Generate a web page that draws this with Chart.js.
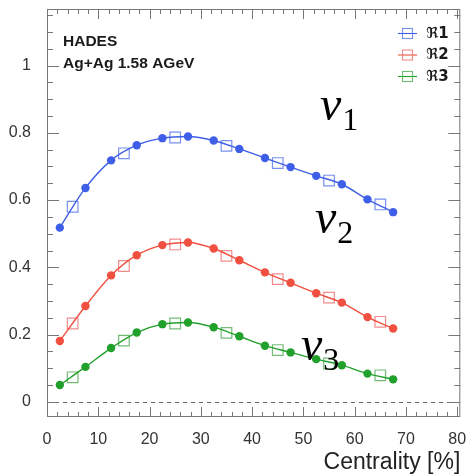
<!DOCTYPE html>
<html>
<head>
<meta charset="utf-8">
<script src="https://cdn.jsdelivr.net/npm/chart.js@4.4.1/dist/chart.umd.min.js"></script>
<style>
html,body{margin:0;padding:0;background:#fff;}
#wrap{width:469px;height:476px;position:relative;}
</style>
</head>
<body>
<div id="wrap"><canvas id="c" width="469" height="476"></canvas></div>
<script>
// Centrality bin centres
const circleX = [2.5, 7.5, 12.5, 17.5, 22.5, 27.5, 32.5, 37.5, 42.5, 47.5, 52.5, 57.5, 62.5, 67.5];
const squareX = [5, 15, 25, 35, 45, 55, 65];

const r1Circles = [0.518, 0.636, 0.718, 0.763, 0.784, 0.789, 0.777, 0.752, 0.725, 0.698, 0.672, 0.647, 0.602, 0.564];
const r1Squares = [0.580, 0.739, 0.786, 0.761, 0.710, 0.658, 0.587];
const r2Circles = [0.181, 0.285, 0.376, 0.436, 0.466, 0.474, 0.456, 0.421, 0.385, 0.354, 0.323, 0.295, 0.252, 0.218];
const r2Squares = [0.233, 0.404, 0.468, 0.434, 0.365, 0.310, 0.238];
const r3Circles = [0.050, 0.104, 0.160, 0.206, 0.231, 0.236, 0.222, 0.195, 0.167, 0.147, 0.127, 0.109, 0.084, 0.067];
const r3Squares = [0.073, 0.182, 0.233, 0.205, 0.154, 0.114, 0.079];

const seriesNames = ['\u211C1', '\u211C2', '\u211C3'];
const xTickValues = [0, 10, 20, 30, 40, 50, 60, 70, 80];
const yTickValues = [0, 0.2, 0.4, 0.6, 0.8, 1];
const yTickLabels = ['0', '0.2', '0.4', '0.6', '0.8', '1'];
const harmonicLabels = [['1', 320, 120], ['2', 315, 233], ['3', 301, 360]];

const colors = [
  {main: '#3f5fe8', light: 'rgba(95,125,235,0.85)'},
  {main: '#f0503f', light: 'rgba(240,120,120,0.85)'},
  {main: '#22a02c', light: 'rgba(90,175,95,0.85)'}
];

function pts(xs, ys) { return xs.map((x, i) => ({x: x, y: ys[i]})); }

const circleSets = [r1Circles, r2Circles, r3Circles];
const squareSets = [r1Squares, r2Squares, r3Squares];
const datasets = [];
for (let i = 0; i < 3; i++) {
  datasets.push({
    label: seriesNames[i] + ' fit',
    data: pts(circleX, circleSets[i]),
    showLine: true,
    cubicInterpolationMode: 'monotone',
    borderColor: colors[i].main,
    borderWidth: 1.4,
    backgroundColor: colors[i].main,
    pointBackgroundColor: colors[i].main,
    pointBorderColor: colors[i].main,
    pointRadius: 4.2,
    pointBorderWidth: 0,
    pointStyle: 'circle'
  });
  datasets.push({
    label: seriesNames[i],
    data: pts(squareX, squareSets[i]),
    showLine: false,
    pointStyle: 'rect',
    pointRadius: 7.5,
    pointBackgroundColor: 'rgba(0,0,0,0)',
    pointBorderColor: colors[i].light,
    pointBorderWidth: 1.2
  });
}

function noPad(s) { s.paddingLeft = 0; s.paddingRight = 0; s.paddingTop = 0; s.paddingBottom = 0; }

const framePlugin = {
  id: 'frame',
  beforeDatasetsDraw(chart) {
    const {ctx, chartArea: a, scales: {y}} = chart;
    ctx.save();
    ctx.strokeStyle = '#666';
    ctx.lineWidth = 1;
    ctx.setLineDash([4, 4]);
    const y0 = Math.round(y.getPixelForValue(0)) + 0.5;
    ctx.beginPath(); ctx.moveTo(a.left, y0); ctx.lineTo(a.right, y0); ctx.stroke();
    ctx.restore();
  },
  afterDatasetsDraw(chart) {
    const {ctx, chartArea: a, scales: {x, y}} = chart;
    ctx.save();
    ctx.strokeStyle = '#777';
    ctx.lineWidth = 1;
    ctx.strokeRect(a.left + 0.5, a.top + 0.5, a.right - a.left - 1, a.bottom - a.top - 1);
    ctx.beginPath();
    for (let v = 0; v <= 80; v += 2) {
      const px = Math.round(x.getPixelForValue(v)) + 0.5;
      const len = (v % 10 === 0) ? 10 : 5;
      ctx.moveTo(px, a.bottom); ctx.lineTo(px, a.bottom - len);
      ctx.moveTo(px, a.top); ctx.lineTo(px, a.top + len);
    }
    for (let k = 0; k <= 23; k++) {
      const v = k * 0.05;
      if (v > y.max) break;
      const py = Math.round(y.getPixelForValue(v)) + 0.5;
      const len = (k % 4 === 0) ? 12 : 6;
      ctx.moveTo(a.left, py); ctx.lineTo(a.left + len, py);
      ctx.moveTo(a.right, py); ctx.lineTo(a.right - len, py);
    }
    ctx.stroke();

    // experiment label
    ctx.fillStyle = '#1a1a1a';
    ctx.font = 'bold 15.5px "Liberation Sans", Arial, sans-serif';
    ctx.textBaseline = 'alphabetic';
    ctx.textAlign = 'left';
    ctx.fillText('HADES', 63, 46);
    ctx.fillText('Ag+Ag 1.58 AGeV', 63, 68);

    // legend
    for (let i = 0; i < 3; i++) {
      const ly = 33 + 21.5 * i;
      ctx.strokeStyle = colors[i].main;
      ctx.lineWidth = 1.1;
      ctx.beginPath(); ctx.moveTo(398, ly + 0.5); ctx.lineTo(417, ly + 0.5); ctx.stroke();
      ctx.strokeStyle = colors[i].light;
      ctx.strokeRect(402.5, ly - 4.5, 10, 10);
      ctx.fillStyle = '#1a1a1a';
      ctx.font = 'bold 15px "DejaVu Sans", sans-serif';
      ctx.textBaseline = 'middle';
      ctx.fillText(seriesNames[i], 426, ly + 1);
    }

    // harmonic labels
    ctx.fillStyle = '#000';
    ctx.textBaseline = 'alphabetic';
    harmonicLabels.forEach(([n, lx, ly]) => {
      ctx.font = 'italic 48px "Liberation Serif", serif';
      ctx.fillText('v', lx, ly);
      const w = ctx.measureText('v').width;
      ctx.font = '32px "Liberation Serif", serif';
      ctx.fillText(n, lx + w + 1, ly + 10);
    });
    ctx.restore();
  }
};

new Chart(document.getElementById('c'), {
  type: 'scatter',
  data: {datasets: datasets},
  options: {
    responsive: false,
    animation: false,
    layout: {padding: {top: 9, right: 6, left: 0, bottom: 0}},
    plugins: {legend: {display: false}, tooltip: {enabled: false}},
    scales: {
      x: {
        type: 'linear', min: 0, max: 80.6,
        grid: {display: false}, border: {display: false},
        afterBuildTicks(s) { s.ticks = xTickValues.map(v => ({value: v})); },
        afterFit(s) { s.height = 59; noPad(s); },
        ticks: {
          padding: 5, color: '#333', maxRotation: 0, autoSkip: false,
          font: {family: '"Liberation Sans", Arial, sans-serif', size: 16},
          callback: (v) => String(v)
        },
        title: {
          display: true, text: 'Centrality [%]', align: 'end', color: '#222',
          font: {family: '"Liberation Sans", Arial, sans-serif', size: 23, lineHeight: 1.2},
          padding: {top: 0, bottom: 0}
        }
      },
      y: {
        type: 'linear', min: -0.045, max: 1.168,
        grid: {display: false}, border: {display: false},
        afterBuildTicks(s) { s.ticks = yTickValues.map(v => ({value: v})); },
        afterFit(s) { s.width = 47; noPad(s); },
        ticks: {
          padding: 8, color: '#333', autoSkip: false,
          font: {family: '"Liberation Sans", Arial, sans-serif', size: 16},
          callback: (v) => { const i = yTickValues.indexOf(v); return i >= 0 ? yTickLabels[i] : ''; }
        }
      }
    }
  },
  plugins: [framePlugin]
});
</script>
</body>
</html>
